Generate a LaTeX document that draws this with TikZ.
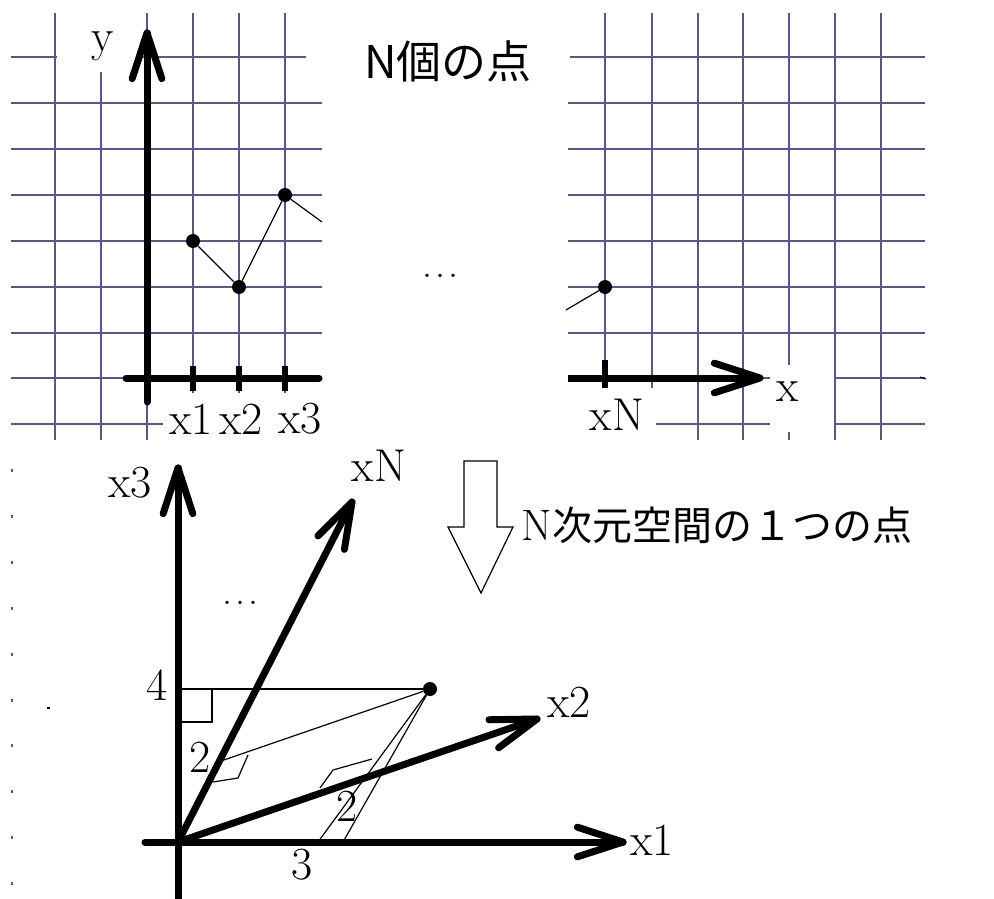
\documentclass[tikz,border=0pt]{standalone}
\usepackage{fontspec}
\newfontfamily\jpfont{Noto Sans CJK JP}
\usetikzlibrary{calc}
\definecolor{gridc}{RGB}{88,88,128}
\tikzset{
  gridline/.style={gridc, line width=2.8pt},
  axisline/.style={line width=7pt, line cap=round, line join=round},
  thinline/.style={line width=1.2pt},
  lbl/.style={inner sep=0pt, font=\fontsize{46}{50}\selectfont},
  jplbl/.style={inner sep=0pt, font=\jpfont\fontsize{#1}{#1}\selectfont},
  dotnode/.style={circle, fill=black, inner sep=0pt, minimum size=14pt},
  ellip/.style={inner sep=0pt, font=\fontsize{40}{40}\selectfont},
}
\newcommand\vtip[2]{\draw[axisline] ($(#1)!48pt!18:(#2)$) -- (#1) -- ($(#1)!48pt!-18:(#2)$);}
\newcommand\myellipsis{\makebox[36pt]{.\hfill.\hfill.}}
\begin{document}
\begin{tikzpicture}[x=1pt,y=-1pt]
\useasboundingbox (0,0) rectangle (994,899);
% ---------- grids ----------
\draw[gridline] (11,57) -- (306,57);
\draw[gridline] (570,57) -- (925,57);
\foreach \y in {103,149,195,241,287,333,378,424}{
  \draw[gridline] (11,\y) -- (322,\y);
  \draw[gridline] (568,\y) -- (925,\y);
}
\foreach \x in {55,101,147,193,239,285,605,652,698,743,789,835,881}{
  \draw[gridline] (\x,13) -- (\x,440);
}
% label backgrounds
\fill[white] (57,13) rectangle (140,72);
\fill[white] (163,393) rectangle (326,442);
\fill[white] (566,388) rectangle (656,442);
\fill[white] (770,365) rectangle (834,432);
\draw[black, line width=1pt] (920,377) -- (926,379);
% faint grid remnants
\foreach \y in {470,516,562,608,654,700,745,791,837,883}{
  \draw[gridc, line width=1.5pt] (12,{\y-1.5}) -- (12,{\y+1.5});
}
\draw[black, line width=1.5pt] (47,708) -- (50,708);
% ---------- top left plot ----------
\coordinate (yO) at (147,402);
\coordinate (yT) at (147,33);
\draw[axisline] (yO) -- (yT);
\vtip{yT}{yO}
\draw[axisline] (126,378) -- (319,378);
\foreach \x in {193,239,285}{\draw[line width=6pt] (\x,366) -- (\x,391);}
\node[dotnode] (p1) at (193,241) {};
\node[dotnode] (p2) at (239,287) {};
\node[dotnode] (p3) at (285,195) {};
\coordinate (p4) at (322,222);
\draw[thinline] (p1) -- (p2) -- (p3) -- (p4);
\node[lbl] (ylab) at (103,46) {y};
\node[lbl] (x1lab) at (191,419) {x1};
\node[lbl] (x2lab) at (241,419) {x2};
\node[lbl] (x3lab) at (300,419) {x3};
% ---------- top right plot ----------
\coordinate (xS) at (568,378);
\coordinate (xT) at (760,378);
\draw[line width=7pt] (xS) -- (xT);
\vtip{xT}{xS}
\draw[line width=6pt] (605,360) -- (605,388);
\node[dotnode] (pN) at (605,287) {};
\coordinate (pM) at (566,310);
\draw[thinline] (pM) -- (pN);
\node[lbl] (xlab) at (788,392) {x};
\node[lbl] (xNlab) at (617,415) {xN};
% ---------- middle texts ----------
\node[jplbl=45] (title) at (448,61) {N個の点};
\node[ellip] (dots1) at (440,276) {\myellipsis};
\draw[line width=1.2pt, fill=white] (464,461) -- (497,461) -- (497,527) -- (513,527)
  -- (481,593) -- (448,527) -- (464,527) -- cycle;
\node[jplbl=40] (caption) at (717,525) {{\rmfamily\fontsize{44}{44}\selectfont N}次元空間の１つの点};
% ---------- bottom N-dim space ----------
\coordinate (O) at (178,842);
\coordinate (x3B) at (178,899);
\coordinate (x3T) at (178,468);
\coordinate (x1L) at (145,842);
\coordinate (x1T) at (623,842);
\coordinate (xNT) at (352,502);
\coordinate (x2T) at (537,719);
\draw[axisline] (x3B) -- (x3T);
\vtip{x3T}{x3B}
\draw[axisline] (x1L) -- (x1T);
\vtip{x1T}{x1L}
\draw[axisline] (O) -- (xNT);
\vtip{xNT}{O}
\draw[axisline] (O) -- (x2T);
\vtip{x2T}{O}
\node[dotnode] (P) at (430,689) {};
\coordinate (h4) at (178,689);
\coordinate (fN) at (218,762);
\coordinate (fA) at (318,842);
\coordinate (fB) at (343,842);
\draw[thinline] (h4) -- (P);
\draw[thinline] (178,722) -- (212,722) -- (212,689);
\draw[thinline] (P) -- (fN);
\draw[thinline] (248,755) -- (238,778) -- (213,782);
\draw[thinline] (P) -- (fA);
\draw[thinline] (P) -- (fB);
\draw[thinline] (320,788) -- (333,770) -- (372,759);
\node[lbl] (bx3) at (130,483) {x3};
\node[lbl] (bxN) at (379,466) {xN};
\node[lbl] (bx2) at (569,702) {x2};
\node[lbl] (bx1) at (652,840) {x1};
\node[lbl] (l4) at (157,685) {4};
\node[lbl] (l2a) at (200,757) {2};
\node[lbl] (l2b) at (347,806) {2};
\node[lbl] (l3) at (302,865) {3};
\node[ellip] (dots2) at (240,603) {\myellipsis};
\end{tikzpicture}
\end{document}
